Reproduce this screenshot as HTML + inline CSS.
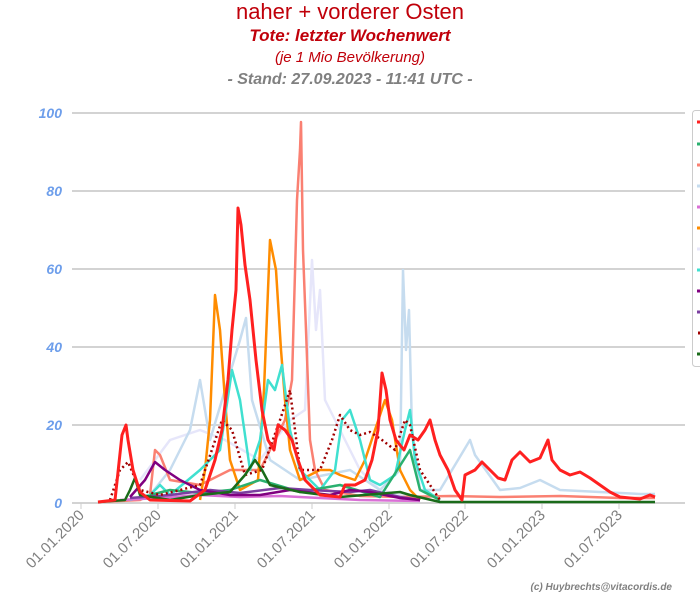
<!DOCTYPE html>
<html><head><meta charset="utf-8"><style>
body{margin:0;background:#fff;width:700px;height:600px;overflow:hidden;font-family:"Liberation Sans",sans-serif}
</style></head><body>
<svg width="700" height="600" viewBox="0 0 700 600" xmlns="http://www.w3.org/2000/svg" font-family="Liberation Sans, sans-serif">
<text x="350" y="19" text-anchor="middle" font-size="22" fill="#c0000a">naher + vorderer Osten</text>
<text x="350" y="41" text-anchor="middle" font-size="17" font-weight="bold" font-style="italic" fill="#c0000a">Tote: letzter Wochenwert</text>
<text x="350" y="62" text-anchor="middle" font-size="15" font-style="italic" fill="#c0000a">(je 1 Mio Bevölkerung)</text>
<text x="350" y="84" text-anchor="middle" font-size="16" font-weight="bold" font-style="italic" fill="#808080">- Stand: 27.09.2023 - 11:41 UTC -</text>
<g stroke="#d3d3d3" stroke-width="2">
<line x1="72" y1="113" x2="685" y2="113"/><line x1="72" y1="191" x2="685" y2="191"/><line x1="72" y1="269" x2="685" y2="269"/><line x1="72" y1="347" x2="685" y2="347"/><line x1="72" y1="425" x2="685" y2="425"/><line x1="72" y1="503" x2="685" y2="503"/>
</g>
<g font-size="14" font-weight="bold" font-style="italic" fill="#6d9eeb" text-anchor="end">
<text x="62" y="118">100</text><text x="62" y="196">80</text><text x="62" y="274">60</text><text x="62" y="352">40</text><text x="62" y="430">20</text><text x="62" y="508">0</text>
</g>
<g stroke="#ccc" stroke-width="1"><line x1="81" y1="503" x2="81" y2="509"/><line x1="158" y1="503" x2="158" y2="509"/><line x1="235" y1="503" x2="235" y2="509"/><line x1="312" y1="503" x2="312" y2="509"/><line x1="389" y1="503" x2="389" y2="509"/><line x1="465" y1="503" x2="465" y2="509"/><line x1="542" y1="503" x2="542" y2="509"/><line x1="619" y1="503" x2="619" y2="509"/></g>
<g font-size="15" fill="#808080" text-anchor="end">
<text transform="translate(85,516) rotate(-45)">01.01.2020</text>
<text transform="translate(162,516) rotate(-45)">01.07.2020</text>
<text transform="translate(239,516) rotate(-45)">01.01.2021</text>
<text transform="translate(316,516) rotate(-45)">01.07.2021</text>
<text transform="translate(393,516) rotate(-45)">01.01.2022</text>
<text transform="translate(469,516) rotate(-45)">01.07.2022</text>
<text transform="translate(546,516) rotate(-45)">01.01.2023</text>
<text transform="translate(623,516) rotate(-45)">01.07.2023</text>
</g>
<text x="672" y="590" text-anchor="end" font-size="10" font-weight="bold" font-style="italic" fill="#808080">(c) Huybrechts@vitacordis.de</text>
<g fill="none" stroke-linejoin="round" stroke-width="2.5">
<polyline stroke="#e6e6fa" points="140,480 170,440 200,430 225,440 260,460 290,420 305,410 312,260 316,330 320,290 325,400 335,420 345,440 360,470 380,490 400,495 430,498"/>
<polyline stroke="#c6dcef" points="150,495 170,470 190,430 200,380 210,440 240,340 246,318 252,400 270,460 300,480 350,470 380,490 400,470 403,270 406,350 409,310 412,430 420,490 440,490 470,440 475,455 500,490 520,488 540,480 560,490 600,492 640,494 655,494"/>
<polyline stroke="#fa8072" points="98,502 140,500 150,495 155,450 160,455 170,480 200,485 230,470 260,470 275,440 285,420 292,380 297,200 300,150 301,122 303,250 306,330 310,440 315,470 325,490 360,496 400,497 450,496 500,497 560,496 620,498 655,498"/>
<polyline stroke="#ff8c00" points="200,500 205,470 210,420 215,295 220,330 225,400 230,460 240,490 258,480 264,390 270,240 276,270 281,350 285,400 290,450 300,480 320,470 330,470 340,475 355,480 365,460 375,430 385,400 392,420 400,470 410,490 420,500"/>
<polyline stroke="#40e0d0" points="130,500 150,495 160,485 170,495 200,470 220,450 232,370 240,400 250,470 260,440 268,380 275,390 282,365 290,430 300,470 320,490 335,470 342,420 350,410 360,440 370,480 380,485 395,475 405,430 410,410 415,460 425,490 440,500"/>
<polyline stroke="#2ab06f" points="150,495 170,490 200,493 230,490 260,480 300,492 340,485 380,497 410,450 420,490 440,500"/>
<polyline stroke="#da70d6" points="120,500 160,498 200,495 240,497 280,496 320,498 360,500 420,501"/>
<polyline stroke="#7b3fa0" points="130,498 170,495 210,490 240,493 280,488 310,490 350,492 370,490 400,497 420,500"/>
<polyline stroke="#800080" points="130,497 145,480 155,462 165,470 180,480 200,490 230,495 260,495 290,490 330,495 350,490 370,492 400,498 420,500"/>
<polyline stroke="#a00000" stroke-dasharray="2,3" points="110,500 120,470 128,462 140,490 160,495 200,485 222,420 232,430 245,475 262,470 280,420 290,390 300,470 320,470 332,440 340,415 350,430 360,435 370,432 382,440 395,450 405,420 410,425 420,470 440,500"/>
<polyline stroke="#1a6b1a" points="98,502 125,500 130,490 135,478 140,495 170,500 200,495 230,492 245,475 255,460 262,470 270,485 300,492 340,497 400,492 410,495 440,502 655,502"/>
<polyline stroke="#ff2020" stroke-width="3" points="98,502 115,500 122,435 126,425 128,440 133,470 140,492 150,500 190,501 205,490 215,460 222,430 228,380 232,330 236,290 238,208 241,225 245,265 250,300 256,360 262,410 268,440 274,450 278,425 285,430 292,440 298,460 305,480 320,495 340,497 345,485 355,485 365,480 372,460 378,430 382,373 386,390 390,420 396,440 404,450 410,435 418,440 425,430 430,420 435,440 440,455 448,470 455,490 462,500 465,475 475,470 482,462 490,470 498,478 505,480 512,460 520,452 530,462 540,458 548,440 552,460 560,470 570,475 580,472 590,478 600,485 610,492 620,497 640,499 650,495 655,497"/>
</g>
<rect x="692.5" y="110.5" width="20" height="256" rx="3" fill="#fff" stroke="#ccc"/>
<g stroke-width="3">
<line x1="697" y1="122" x2="702" y2="122" stroke="#ff2020"/>
<line x1="697" y1="144" x2="702" y2="144" stroke="#2ab06f"/>
<line x1="697" y1="165" x2="702" y2="165" stroke="#fa8072"/>
<line x1="697" y1="186" x2="702" y2="186" stroke="#c6dcef"/>
<line x1="697" y1="207" x2="702" y2="207" stroke="#da70d6"/>
<line x1="697" y1="228" x2="702" y2="228" stroke="#ff8c00"/>
<line x1="697" y1="249" x2="702" y2="249" stroke="#e6e6fa"/>
<line x1="697" y1="270" x2="702" y2="270" stroke="#40e0d0"/>
<line x1="697" y1="291" x2="702" y2="291" stroke="#800080"/>
<line x1="697" y1="312" x2="702" y2="312" stroke="#7b3fa0"/>
<line x1="698" y1="333" x2="702" y2="333" stroke="#a00000"/>
<line x1="697" y1="354" x2="702" y2="354" stroke="#1a6b1a"/>
</g>
</svg>
</body></html>
